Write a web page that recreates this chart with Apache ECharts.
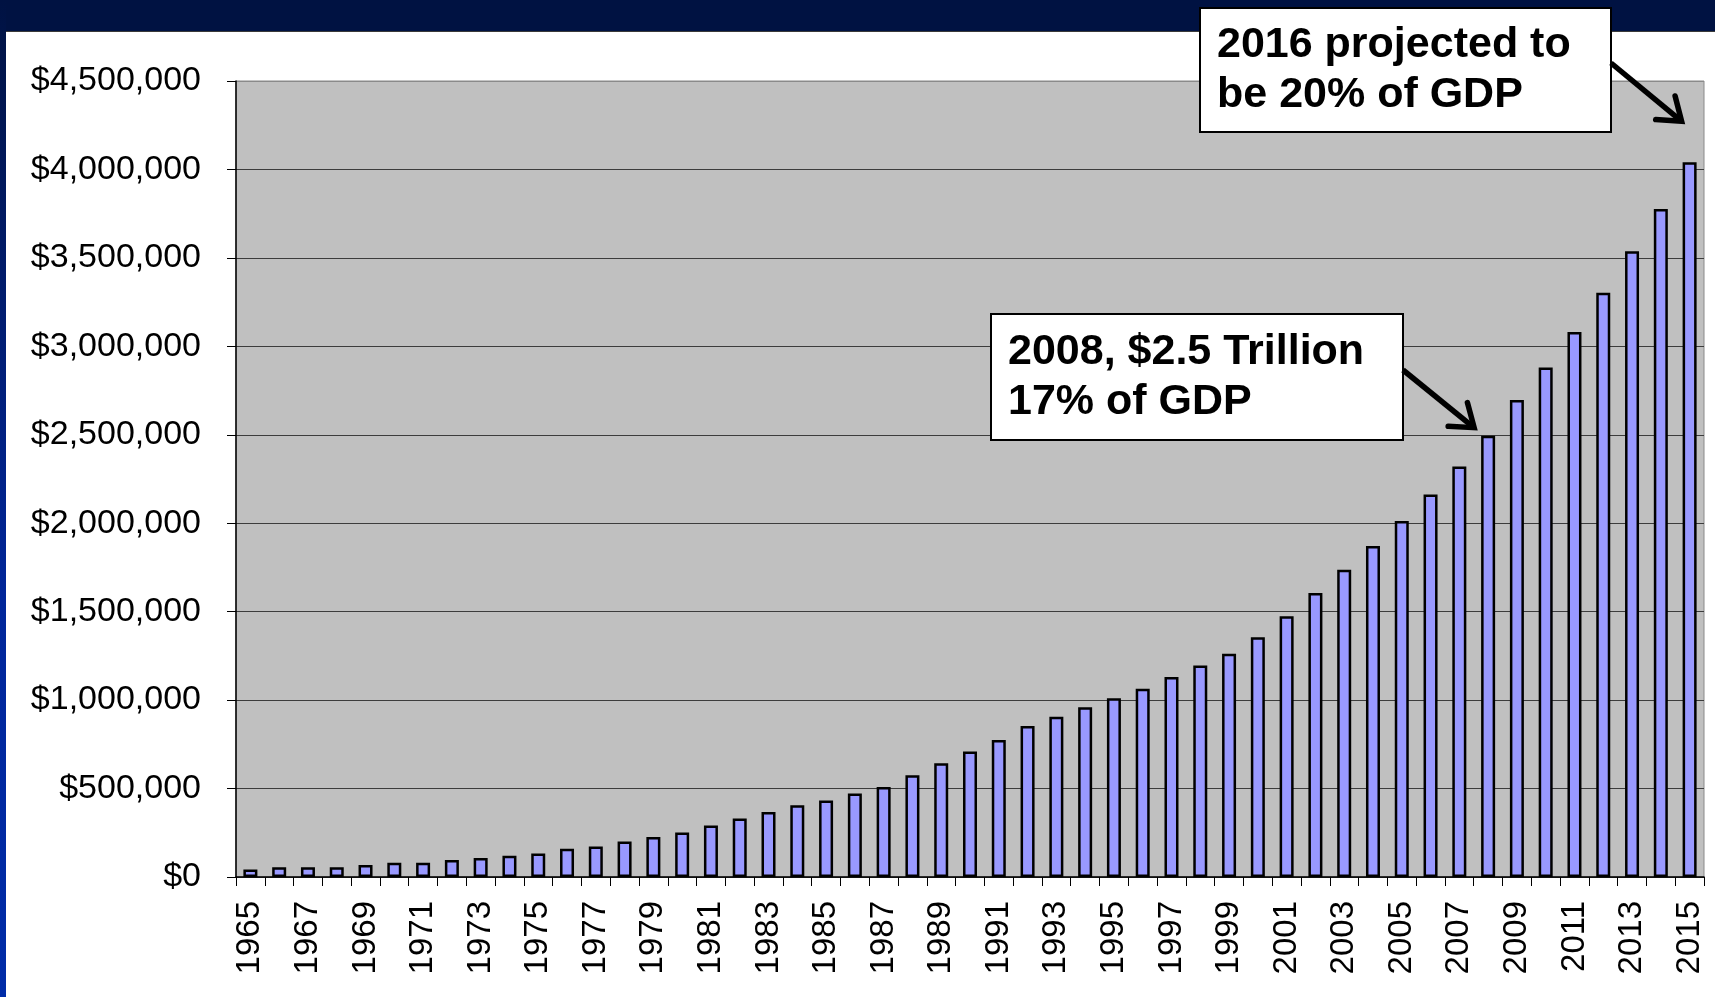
<!DOCTYPE html>
<html>
<head>
<meta charset="utf-8">
<script src="https://cdn.jsdelivr.net/npm/echarts/dist/echarts.min.js"></script>
<style>
html, body { margin: 0; padding: 0; }
#wrap { position: relative; width: 1715px; height: 997px; background: #ffffff; overflow: hidden; }
#header { position: absolute; left: 0; top: 0; width: 1715px; height: 31px; background: #001242; border-bottom: 1px solid #3a3a3a; }
#strip { position: absolute; left: 0; top: 0; width: 6px; height: 997px; background: linear-gradient(#001242, #00269a 60%, #002ca8); }
#c { position: absolute; left: 0; top: 0; width: 1715px; height: 997px; }
</style>
</head>
<body>
<div id="wrap">
  <div id="header"></div>
  <div id="strip"></div>
  <div id="c"></div>
</div>
<script>
// ---- data ----
const years = ['1965','1966','1967','1968','1969','1970','1971','1972','1973','1974',
  '1975','1976','1977','1978','1979','1980','1981','1982','1983','1984',
  '1985','1986','1987','1988','1989','1990','1991','1992','1993','1994',
  '1995','1996','1997','1998','1999','2000','2001','2002','2003','2004',
  '2005','2006','2007','2008','2009','2010','2011','2012','2013','2014','2015'];
const spending = [43000, 55000, 55000, 55000, 68000, 81000, 81000, 96000, 107000, 120000,
  133000, 160000, 173000, 201000, 226000, 252000, 291000, 331000, 367000, 406000,
  432000, 472000, 509000, 575000, 643000, 709000, 774000, 853000, 906000, 959000,
  1011000, 1064000, 1130000, 1196000, 1262000, 1355000, 1474000, 1605000, 1737000, 1871000,
  2013000, 2162000, 2320000, 2495000, 2696000, 2880000, 3081000, 3303000, 3538000, 3777000, 4041000];
const yMin = 0, yMax = 4500000, yStep = 500000;
const noteProjected = ['2016 projected to', 'be 20% of GDP'];
const noteYear2008 = ['2008, $2.5 Trillion', '17% of GDP'];
const noteProjectedYear = '2015';
const note2008Year = '2008';

// ---- chart ----
const FONT = '"Liberation Sans", Arial, sans-serif';
const chart = echarts.init(document.getElementById('c'), null, { renderer: 'canvas' });

const splitColors = [];
for (let v = yMin; v <= yMax; v += yStep) splitColors.push(v === yMax ? '#8a8a8a' : '#3c3c3c');

chart.setOption({
  animation: false,
  backgroundColor: 'transparent',
  grid: {
    left: 236, top: 81, right: 11, bottom: 120,
    show: true, backgroundColor: '#c0c0c0', borderColor: '#8a8a8a', borderWidth: 1
  },
  xAxis: {
    type: 'category',
    data: years,
    boundaryGap: true,
    axisLine: { show: true, lineStyle: { color: '#000', width: 1.5 } },
    axisTick: { show: true, interval: 0, length: 9, lineStyle: { color: '#000', width: 1 } },
    axisLabel: {
      interval: 1, rotate: 90, margin: 24,
      fontFamily: FONT, fontSize: 33, color: '#000'
    },
    splitLine: { show: false }
  },
  yAxis: {
    type: 'value',
    min: yMin, max: yMax, interval: yStep,
    axisLine: { show: true, lineStyle: { color: '#000', width: 1.5 } },
    axisTick: { show: true, length: 9, lineStyle: { color: '#000', width: 1 } },
    axisLabel: {
      margin: 35, fontFamily: FONT, fontSize: 34, color: '#000',
      formatter: v => '$' + Number(v).toLocaleString('en-US')
    },
    splitLine: { show: true, lineStyle: { color: splitColors, width: 1 } }
  },
  series: [{
    type: 'bar',
    data: spending,
    barWidth: 14,
    itemStyle: { color: '#9999ff', borderColor: '#000', borderWidth: 2.5 }
  }]
});

// ---- annotations (callout boxes with arrows pointing at bar tops) ----
function arrowEls(from, tip) {
  const dx = tip[0] - from[0], dy = tip[1] - from[1];
  const len = Math.hypot(dx, dy);
  const ux = dx / len, uy = dy / len;
  const L = 26, a = Math.PI / 5;
  const p = ang => {
    const c = Math.cos(ang), s = Math.sin(ang);
    const rx = ux * c - uy * s, ry = ux * s + uy * c;
    return [tip[0] - rx * L, tip[1] - ry * L];
  };
  return [
    { type: 'line', z: 100, shape: { x1: from[0], y1: from[1], x2: tip[0] - ux * 3, y2: tip[1] - uy * 3 },
      style: { stroke: '#000', lineWidth: 5.5, lineCap: 'butt' } },
    { type: 'polyline', z: 100, shape: { points: [p(a), tip, p(-a)] },
      style: { stroke: '#000', lineWidth: 5.5, fill: null, lineJoin: 'miter', lineCap: 'round' } }
  ];
}
function boxEls(x, y, w, h, lines) {
  return [
    { type: 'rect', z: 100, shape: { x: x, y: y, width: w, height: h },
      style: { fill: '#fff', stroke: '#000', lineWidth: 2 } },
    { type: 'text', z: 101, style: {
        x: x + 17, y: y + h / 2, text: lines.join('\n'),
        fontFamily: FONT, fontSize: 43, fontWeight: 'bold', lineHeight: 50,
        fill: '#000', align: 'left', verticalAlign: 'middle' } }
  ];
}
function drawNotes() {
  const i15 = years.indexOf(noteProjectedYear);
  const i08 = years.indexOf(note2008Year);
  const top15 = chart.convertToPixel({ seriesIndex: 0 }, [i15, spending[i15]]);
  const top08 = chart.convertToPixel({ seriesIndex: 0 }, [i08, spending[i08]]);
  const els = []
    .concat(boxEls(1200, 8, 411, 124, noteProjected))
    .concat(arrowEls([1611, 63], [top15[0] - 8, top15[1] - 41]))
    .concat(boxEls(991, 314, 412, 126, noteYear2008))
    .concat(arrowEls([1403, 370], [top08[0] - 14, top08[1] - 8]));
  chart.setOption({ graphic: els });
}
drawNotes();
</script>
</body>
</html>
